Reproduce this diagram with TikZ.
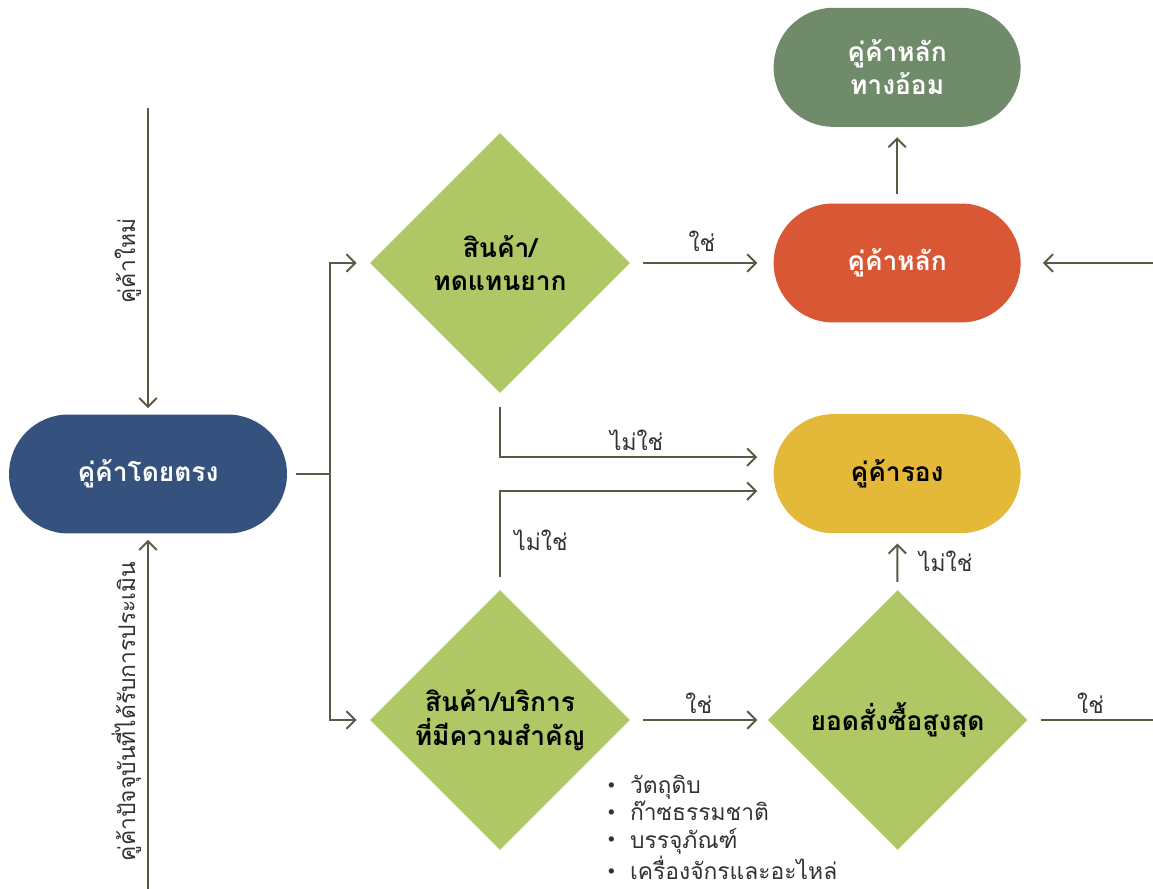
\documentclass[tikz,border=0pt]{standalone}
\usepackage{fontspec}
\setmainfont[Script=Thai]{Loma}
\usepackage{tikz}
\usetikzlibrary{arrows.meta}
\usetikzlibrary{shapes.geometric}
\usetikzlibrary{positioning}
\definecolor{pBlue}{HTML}{34527D}
\definecolor{pRed}{HTML}{D95734}
\definecolor{pSage}{HTML}{6F8B6A}
\definecolor{pYellow}{HTML}{E4B838}
\definecolor{dGreen}{HTML}{B0C765}
\definecolor{lineCol}{HTML}{5B5A45}
\definecolor{labelCol}{HTML}{333333}
\newcommand{\listdot}{\raisebox{0.22em}{\scriptsize$\bullet$}\hspace{0.3cm}}

\begin{document}
\begin{tikzpicture}[x=0.02cm, y=0.02cm]
      \tikzset{
         pnode/.style = {
            rectangle, rounded corners=1.19cm,
            minimum width=4.94cm, minimum height=2.38cm,
            inner sep=0pt, align=center, text=white,
            font=\fontsize{15}{19}\selectfont\bf
         },
         dnode/.style = {
            diamond, aspect=1, fill=dGreen,
            minimum width=5.2cm, minimum height=5.2cm,
            inner sep=0pt, align=center,
            font=\fontsize{15}{19}\selectfont\bf
         },
         arr/.style = {
            -{Straight Barb[length=5pt,width=10pt]},
            line width=1.1pt, draw=lineCol
         },
         lbl/.style = {
            text=labelCol, font=\fontsize{13}{15.6}\selectfont
         }
      }
      \useasboundingbox (0,0) rectangle (1153,889);
      \node[pnode, fill=pBlue, minimum width=5.56cm] (direct) at (148,415) {คู่ค้าโดยตรง} ;
      \node[dnode] (hardSub) at (500,626) {สินค้า/\\ทดแทนยาก} ;
      \node[dnode] (keyGoods) at (500,169) {สินค้า/บริการ\\ที่มีความสำคัญ} ;
      \node[dnode, right=2.74cm of keyGoods] (topOrder) {ยอดสั่งซื้อสูงสุด} ;
      \node[pnode, fill=pRed, right=2.86cm of hardSub] (mainPartner) {คู่ค้าหลัก} ;
      \node[pnode, fill=pSage, above=1.52cm of mainPartner] (indirectMain) {คู่ค้าหลัก\\ทางอ้อม} ;
      \node[pnode, fill=pYellow, text=black, below=1.82cm of mainPartner] (secondPartner) {คู่ค้ารอง} ;
      \node[lbl, anchor=north west, align=left, inner sep=2pt] (goodsList) at (604,118) {
        \listdot วัตถุดิบ\\
        \listdot ก๊าซธรรมชาติ\\
        \listdot บรรจุภัณฑ์\\
        \listdot เครื่องจักรและอะไหล่
      } ;
      \coordinate (newIn) at (148,781) ;
      \coordinate (oldIn) at (148,0) ;
      \coordinate (rightIn) at (1153,626) ;
      \coordinate (rightOut) at (1153,169) ;
      \draw [arr, shorten >=0.12cm] (newIn) -- node[lbl, rotate=90, anchor=south] {คู่ค้าใหม่} (direct) ;
      \draw [arr, shorten >=0.12cm] (oldIn) -- node[lbl, rotate=90, anchor=south] {คู่ค้าปัจจุบันที่ได้รับการประเมิน} (direct) ;
      \draw [arr, -, shorten <=0.18cm] (direct.east) -- ++(43,0) coordinate (split) ;
      \draw [arr, shorten >=0.26cm] (split) |- (hardSub) ;
      \draw [arr, shorten >=0.26cm] (split) |- (keyGoods) ;
      \draw [arr, shorten <=0.26cm, shorten >=0.32cm] (hardSub) -- node[lbl, above=0.1cm] {ใช่} (mainPartner) ;
      \draw [arr, shorten <=0.18cm, shorten >=0.2cm] (mainPartner) -- (indirectMain) ;
      \draw [arr, shorten >=0.44cm] (rightIn) -- (mainPartner) ;
      \draw [arr, shorten <=0.28cm, shorten >=0.32cm] (hardSub) |- node[lbl, pos=0.75, above] {ไม่ใช่} ([yshift=0.33cm]secondPartner.west) ;
      \draw [arr, shorten <=0.26cm, shorten >=0.32cm] (keyGoods) |- node[lbl, pos=0.25, right=0.15cm] {ไม่ใช่} ([yshift=-0.35cm]secondPartner.west) ;
      \draw [arr, shorten <=0.26cm, shorten >=0.2cm] (keyGoods) -- node[lbl, above] {ใช่} (topOrder) ;
      \draw [arr, shorten <=0.16cm, shorten >=0.2cm] (topOrder) -- node[lbl, right=0.3cm] {ไม่ใช่} (secondPartner) ;
      \draw [arr, -, shorten <=0.26cm] (topOrder) -- node[lbl, above] {ใช่} (rightOut) ;
\end{tikzpicture}
\end{document}
